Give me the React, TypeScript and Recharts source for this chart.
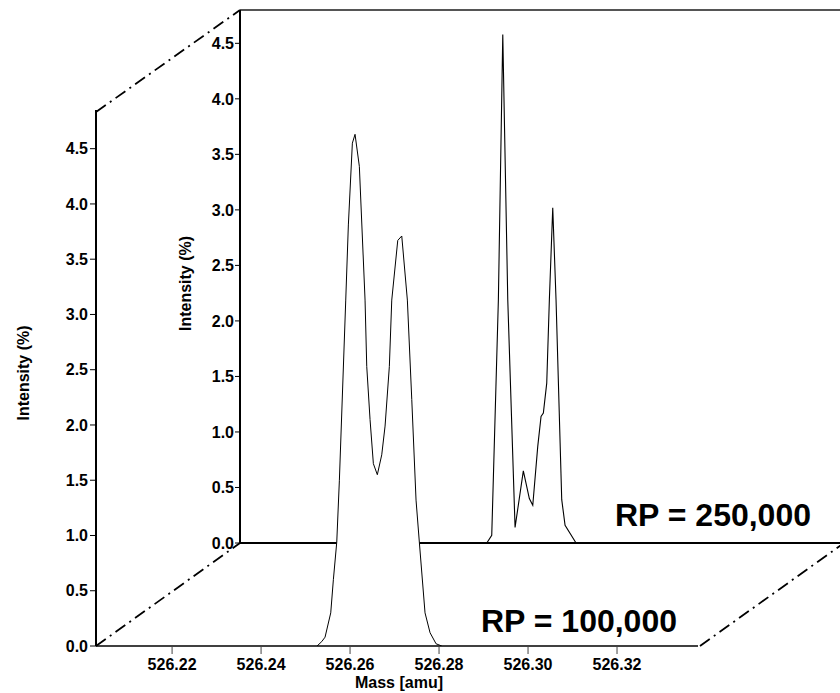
import React from 'react';
import { ComposedChart, Area, Line, XAxis, YAxis, ReferenceLine, Label } from 'recharts';

const FONT = '"Liberation Sans", Arial, Helvetica, sans-serif';

// Axis ticks
const massTicks = [526.22, 526.24, 526.26, 526.28, 526.3, 526.32];
const intensityTicks = [0, 0.5, 1, 1.5, 2, 2.5, 3, 3.5, 4, 4.5];
const massDomain: [number, number] = [526.2029, 526.3382];

// Front spectrum: RP = 100,000
const frontMass = [
  526.25258, 526.25364, 526.25438, 526.25566, 526.25625, 526.25701, 526.2576, 526.25903,
  526.25962, 526.26052, 526.26112, 526.26209, 526.26337, 526.26375, 526.26449, 526.26524,
  526.26613, 526.26712, 526.26787, 526.26883, 526.26937, 526.27072, 526.27162, 526.27288,
  526.27387, 526.27483, 526.27557, 526.27685, 526.27798, 526.27933, 526.28061,
];
const frontIntensity = [
  0, 0.04, 0.08, 0.3, 0.6, 0.94, 1.5, 3.13,
  3.81, 4.55, 4.63, 4.34, 3.13, 2.53, 2.05, 1.65,
  1.55, 1.73, 1.99, 2.53, 3.13, 3.67, 3.71, 3.13,
  2.23, 1.32, 0.94, 0.3, 0.12, 0.02, 0,
];

// Back spectrum: RP = 250,000
const backMass = [
  526.25836, 526.25948, 526.26097, 526.26196, 526.26308, 526.26472, 526.26658, 526.26793,
  526.2687, 526.26982, 526.27056, 526.27108, 526.27184, 526.27243, 526.27319, 526.27393,
  526.27521, 526.27596, 526.27843,
];
const backIntensity = [
  0, 0.07, 2.19, 4.58, 2.19, 0.14, 0.65, 0.4,
  0.34, 0.87, 1.14, 1.17, 1.44, 2.19, 3.02, 2.19,
  0.39, 0.16, 0,
];

const labels = {
  xAxis: 'Mass [amu]',
  yAxis: 'Intensity (%)',
  front: 'RP = 100,000',
  back: 'RP = 250,000',
};

const frontData = frontMass.map((m, i) => ({ mass: m, intensity: frontIntensity[i] }));
const backData = backMass.map((m, i) => ({ mass: m, intensity: backIntensity[i] }));

const tickStyle = { fill: '#000', fontSize: 16, fontWeight: 'bold' as const, fontFamily: FONT };

const makeYLabel = (fromAxis: number, dy: number) => (p: any) => {
  const vb = p.viewBox || { x: 0, y: 0, width: 0, height: 0 };
  const x = vb.x + vb.width - fromAxis;
  const y = vb.y + vb.height / 2 + dy;
  return (
    <text
      x={x}
      y={y}
      transform={`rotate(-90 ${x} ${y})`}
      textAnchor="middle"
      dominantBaseline="central"
      fill="#000"
      fontSize={16}
      fontWeight="bold"
      fontFamily={FONT}
    >
      {labels.yAxis}
    </text>
  );
};

const xLabel = (p: any) => {
  const vb = p.viewBox || { x: 0, y: 0, width: 0, height: 0 };
  const x = vb.x + vb.width / 2 + 2;
  const y = vb.y + 42;
  return (
    <text x={x} y={y} textAnchor="middle" fill="#000" fontSize={16} fontWeight="bold" fontFamily={FONT}>
      {labels.xAxis}
    </text>
  );
};

const DASH = '12 5 2 5';

export default function App() {
  return (
    <div style={{ position: 'absolute', left: 0, top: 0, width: 840, height: 693, overflow: 'hidden', background: '#fff' }}>
      {/* Back panel */}
      <div style={{ position: 'absolute', left: 0, top: 0 }}>
        <ComposedChart
          width={860}
          height={693}
          data={backData}
          margin={{ top: 10, right: 18, bottom: 150, left: 0 }}
        >
          <XAxis dataKey="mass" type="number" domain={massDomain} allowDataOverflow hide />
          <YAxis
            type="number"
            domain={[0, 4.8]}
            ticks={intensityTicks}
            allowDataOverflow
            width={240}
            tickFormatter={(v: number) => v.toFixed(1)}
            tick={tickStyle}
            tickSize={5}
            tickMargin={1}
            axisLine={{ stroke: '#000', strokeWidth: 2 }}
            tickLine={{ stroke: '#000', strokeWidth: 1 }}
          >
            <Label content={makeYLabel(54.5, 7)} />
          </YAxis>
          <ReferenceLine y={4.8} stroke="#555" strokeWidth={2} />
          <ReferenceLine y={0} stroke="#000" strokeWidth={2} />
          <Line
            dataKey="intensity"
            type="linear"
            stroke="#000"
            strokeWidth={1.1}
            dot={false}
            isAnimationActive={false}
          />
        </ComposedChart>
      </div>

      {/* Front panel */}
      <div style={{ position: 'absolute', left: 0, top: 0 }}>
        <ComposedChart
          width={840}
          height={693}
          data={frontData}
          margin={{ top: 110, right: 142, bottom: 17, left: 0 }}
        >
          <XAxis
            dataKey="mass"
            type="number"
            domain={massDomain}
            allowDataOverflow
            ticks={massTicks}
            tickFormatter={(v: number) => v.toFixed(2)}
            tick={tickStyle}
            height={30}
            tickSize={8}
            tickMargin={5}
            axisLine={{ stroke: '#000', strokeWidth: 1.5 }}
            tickLine={{ stroke: '#444', strokeWidth: 1 }}
          >
            <Label content={xLabel} />
          </XAxis>
          <YAxis
            type="number"
            domain={[0, 4.85]}
            ticks={intensityTicks}
            allowDataOverflow
            width={96}
            tickFormatter={(v: number) => v.toFixed(1)}
            tick={tickStyle}
            tickSize={6}
            tickMargin={2}
            axisLine={{ stroke: '#000', strokeWidth: 2 }}
            tickLine={{ stroke: '#000', strokeWidth: 1 }}
          >
            <Label content={makeYLabel(72.3, -5)} />
          </YAxis>
          <Area
            dataKey="intensity"
            type="linear"
            stroke="#000"
            strokeWidth={1}
            fill="#fff"
            fillOpacity={1}
            dot={false}
            isAnimationActive={false}
          />
        </ComposedChart>
      </div>

      {/* Perspective connectors and annotations */}
      <svg
        width={840}
        height={693}
        style={{ position: 'absolute', left: 0, top: 0, pointerEvents: 'none' }}
      >
        <line x1={96} y1={112} x2={240} y2={10} stroke="#000" strokeWidth={1.8} strokeDasharray={DASH} />
        <line x1={96} y1={646} x2={240} y2={543} stroke="#000" strokeWidth={1.8} strokeDasharray={DASH} />
        <line x1={700} y1={646} x2={844} y2={543} stroke="#000" strokeWidth={1.8} strokeDasharray={DASH} />
        <text x={713} y={526} textAnchor="middle" fontSize={32} fontWeight="bold" fontFamily={FONT} fill="#000">
          {labels.back}
        </text>
        <text x={579} y={632} textAnchor="middle" fontSize={32} fontWeight="bold" fontFamily={FONT} fill="#000">
          {labels.front}
        </text>
      </svg>
    </div>
  );
}
